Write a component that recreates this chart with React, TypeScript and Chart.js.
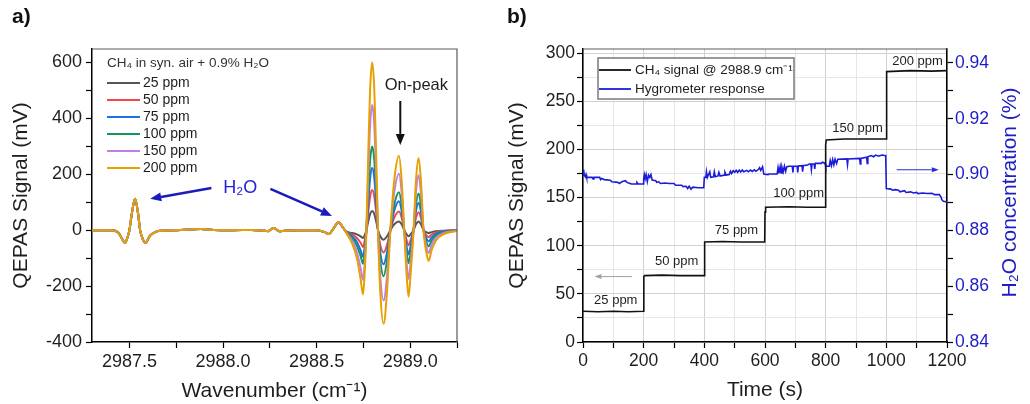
import React, { useEffect, useRef } from "react";
import { Chart, registerables } from "chart.js";

Chart.register(...registerables);

const FONT = "'Liberation Sans', Arial, Helvetica, sans-serif";
const INK = "#1e1e1e";
const BLUE = "#1c1cc8";

// ---------------- Panel a: QEPAS spectra ----------------
const wavenumber = [
  2987.3, 2987.4, 2987.44, 2987.46, 2987.476, 2987.49, 2987.5, 2987.513, 2987.53, 2987.546,
  2987.557, 2987.57, 2987.585, 2987.61, 2987.64, 2987.68, 2987.75, 2987.82, 2987.88, 2987.95,
  2988.05, 2988.15, 2988.21, 2988.24, 2988.27, 2988.3, 2988.33, 2988.4, 2988.5, 2988.54,
  2988.565, 2988.59, 2988.617, 2988.64, 2988.66, 2988.69, 2988.715, 2988.735, 2988.748, 2988.757,
  2988.766, 2988.777, 2988.787, 2988.797, 2988.807, 2988.817, 2988.828, 2988.84, 2988.858, 2988.876,
  2988.894, 2988.915, 2988.94, 2988.955, 2988.968, 2988.98, 2988.991, 2989.003, 2989.018, 2989.03,
  2989.045, 2989.058, 2989.071, 2989.085, 2989.098, 2989.115, 2989.14, 2989.18, 2989.25,
];

const signal25ppm = [
  0, 0, -8, -30, -46, -25, 0, 60, 112, 60, 0, -30, -45, -20, -6, -2, 0, 2, 4, 1,
  0, 1, -1, -4, 8, -4, -2, 0, 0, -6, -14, 6, 28, 10,
  -5, -10, -15, -22, -28, -18, 0, 35, 60, 69, 60, 35, 0, -22, -34, -22, 0, 21, 31, 20,
  0, -14, -22, -14, 0, 20, 31, 20, 0, -7, -10, -7, -4, -2, 0,
];
const signal50ppm = [
  0, 0, -8, -30, -46, -25, 0, 60, 112, 60, 0, -30, -45, -20, -6, -2, 0, 2, 4, 1,
  0, 1, -1, -4, 8, -4, -2, 0, 0, -6, -14, 6, 28, 10,
  -7, -15, -28, -45, -60, -38, 0, 72, 125, 144, 125, 72, 0, -53, -80, -53, 0, 45, 67, 43,
  0, -34, -54, -34, 0, 42, 64, 42, 0, -17, -25, -16, -8, -3, 0,
];
const signal75ppm = [
  0, 0, -8, -30, -46, -25, 0, 60, 112, 60, 0, -30, -45, -20, -6, -2, 0, 2, 4, 1,
  0, 1, -1, -4, 8, -4, -2, 0, 0, -6, -14, 6, 28, 10,
  -8, -22, -42, -72, -95, -60, 0, 111, 193, 222, 193, 111, 0, -80, -122, -80, 0, 70, 103, 66,
  0, -55, -87, -55, 0, 65, 98, 65, 0, -27, -40, -26, -12, -5, -1,
];
const signal100ppm = [
  0, 0, -8, -30, -46, -25, 0, 60, 112, 60, 0, -30, -45, -20, -6, -2, 0, 2, 4, 1,
  0, 1, -1, -4, 8, -4, -2, 0, 0, -6, -14, 6, 28, 10,
  -9, -28, -55, -92, -120, -78, 0, 150, 260, 299, 260, 150, 0, -108, -165, -108, 0, 92, 136, 87,
  0, -75, -118, -75, 0, 87, 131, 87, 0, -39, -58, -37, -18, -7, -1,
];
const signal150ppm = [
  0, 0, -8, -30, -46, -25, 0, 60, 112, 60, 0, -30, -45, -20, -6, -2, 0, 2, 4, 1,
  0, 1, -1, -4, 8, -4, -2, 0, 0, -6, -14, 6, 28, 10,
  -10, -38, -78, -135, -178, -115, 0, 224, 390, 448, 390, 224, 0, -165, -252, -165, 0, 137, 202, 129,
  0, -111, -175, -111, 0, 129, 196, 129, 0, -55, -82, -52, -26, -10, -2,
];
const signal200ppm = [
  0, 0, -8, -30, -46, -25, 0, 60, 112, 60, 0, -30, -45, -20, -6, -2, 0, 2, 4, 1,
  0, 1, -1, -4, 8, -4, -2, 0, 0, -6, -14, 6, 28, 10,
  -12, -48, -100, -175, -230, -150, 0, 300, 520, 600, 520, 300, 0, -220, -335, -220, 0, 180, 266, 170,
  0, -150, -238, -150, 0, 170, 258, 170, 0, -75, -110, -70, -35, -14, -3,
];

const spectraSeries = [signal25ppm, signal50ppm, signal75ppm, signal100ppm, signal150ppm, signal200ppm];
const seriesLabels = ["25 ppm", "50 ppm", "75 ppm", "100 ppm", "150 ppm", "200 ppm"];
const seriesColors = ["#555555", "#f2474f", "#1f6fe5", "#14965a", "#c07fe6", "#e6a000"];
const legendTitleA = "CH\u2084 in syn. air + 0.9% H\u2082O";

// ---------------- Panel b: time series ----------------
const timeCH4 = [
  0, 50, 100, 150, 199, 200, 201, 203, 260, 320, 399, 400, 402, 460, 520, 599,
  600, 602, 680, 740, 799, 800, 802, 860, 920, 999, 1000, 1002, 1080, 1150, 1200,
];
const signalCH4 = [
  32, 31.5, 32, 31.5, 32, 55, 68, 69, 69.5, 69, 69, 100, 104, 104.5, 104, 104,
  135, 140, 140.5, 140, 140, 205, 210, 211, 211, 211, 275, 281, 282, 281.5, 282,
];

const timeHygro = [
  0, 2, 4, 8, 10, 12, 30, 33, 36, 55, 58, 62, 70, 90, 95, 115, 120, 128, 140, 145,
  155, 160, 175, 178, 182, 198, 200, 202, 205, 208, 212, 216, 220, 224, 228, 240, 243, 250, 255, 270,
  285, 300, 305, 325, 330, 340, 345, 350, 356, 362, 380, 398, 400, 405, 407, 410, 418, 421, 430, 433,
  436, 445, 448, 452, 465, 468, 472, 482, 486, 490, 495, 500, 505, 510, 515, 520, 525, 530, 540, 545,
  552, 558, 565, 570, 578, 582, 586, 592, 596, 610, 614, 640, 643, 646, 650, 653, 656, 660, 664, 668,
  672, 680, 690, 692, 694, 706, 708, 710, 722, 724, 726, 740, 746, 751, 753, 755, 762, 764, 766, 785,
  790, 798, 800, 812, 815, 819, 823, 827, 831, 836, 840, 870, 872, 874, 912, 914, 916, 935, 937, 939,
  950, 958, 965, 975, 985, 998, 1000, 1015, 1020, 1030, 1040, 1045, 1060, 1065, 1080, 1090, 1100, 1105, 1120, 1135,
  1150, 1160, 1175, 1180, 1183, 1188, 1200,
];
const h2oConcentration = [
  0.8998, 0.9018, 0.8998, 0.8992, 0.9, 0.899, 0.899, 0.8984, 0.899, 0.899, 0.8982, 0.8986, 0.8982, 0.898, 0.8974, 0.8972, 0.8968, 0.8974, 0.8978, 0.8972,
  0.8968, 0.8966, 0.8966, 0.8972, 0.8966, 0.8966, 0.8985, 0.9, 0.8985, 0.9, 0.8975, 0.8998, 0.899, 0.9, 0.898, 0.8978, 0.8972, 0.8974, 0.8968, 0.897,
  0.8968, 0.8968, 0.8962, 0.8962, 0.8957, 0.8958, 0.895, 0.8958, 0.8948, 0.8955, 0.8953, 0.8953, 0.899, 0.899, 0.901, 0.899, 0.901, 0.899, 0.8992, 0.901,
  0.8992, 0.8995, 0.9008, 0.8995, 0.8998, 0.9008, 0.8998, 0.9, 0.9012, 0.9004, 0.9014, 0.9008, 0.9015, 0.9008, 0.9016, 0.9009, 0.9016, 0.901, 0.9015, 0.901,
  0.9016, 0.9011, 0.9017, 0.9012, 0.9018, 0.9025, 0.9015, 0.9028, 0.9002, 0.9, 0.9002, 0.9002, 0.9025, 0.9004, 0.9028, 0.9006, 0.9026, 0.901, 0.903, 0.9012,
  0.9028, 0.903, 0.903, 0.9008, 0.903, 0.903, 0.9008, 0.9031, 0.9032, 0.901, 0.9032, 0.9034, 0.9038, 0.9038, 0.9018, 0.9038, 0.9038, 0.902, 0.904, 0.904,
  0.9044, 0.904, 0.903, 0.903, 0.905, 0.9032, 0.9054, 0.9035, 0.9055, 0.904, 0.9055, 0.9056, 0.9036, 0.9056, 0.9058, 0.9038, 0.9058, 0.9062, 0.904, 0.9064,
  0.9068, 0.9064, 0.907, 0.9066, 0.907, 0.9068, 0.895, 0.8948, 0.8944, 0.8946, 0.8944, 0.8938, 0.8942, 0.8936, 0.8938, 0.8934, 0.8936, 0.8932, 0.8934, 0.8932,
  0.8933, 0.8928, 0.8928, 0.892, 0.891, 0.8904, 0.8902,
];
const stepLabels = ["25 ppm", "50 ppm", "75 ppm", "100 ppm", "150 ppm", "200 ppm"];
const legendLabelsB = ["CH\u2084 signal @ 2988.9 cm\u207B\u00B9", "Hygrometer response"];

// ---------------- drawing helpers ----------------
function drawText(
  ctx: CanvasRenderingContext2D, s: string, x: number, y: number, size: number,
  color: string, align: CanvasTextAlign = "left", weight = ""
) {
  ctx.save();
  ctx.font = `${weight} ${size}px ${FONT}`.trim();
  ctx.fillStyle = color;
  ctx.textAlign = align;
  ctx.textBaseline = "middle";
  ctx.fillText(s, x, y);
  ctx.restore();
}

function drawArrow(
  ctx: CanvasRenderingContext2D, x1: number, y1: number, x2: number, y2: number,
  color: string, lw: number, head: number, halfW: number
) {
  const ang = Math.atan2(y2 - y1, x2 - x1);
  const bx = x2 - head * Math.cos(ang);
  const by = y2 - head * Math.sin(ang);
  ctx.save();
  ctx.strokeStyle = color;
  ctx.fillStyle = color;
  ctx.lineWidth = lw;
  ctx.beginPath();
  ctx.moveTo(x1, y1);
  ctx.lineTo(bx, by);
  ctx.stroke();
  ctx.beginPath();
  ctx.moveTo(x2, y2);
  ctx.lineTo(bx + halfW * Math.sin(ang), by - halfW * Math.cos(ang));
  ctx.lineTo(bx - halfW * Math.sin(ang), by + halfW * Math.cos(ang));
  ctx.closePath();
  ctx.fill();
  ctx.restore();
}

function drawTopRightFrame(chart: any, right: boolean) {
  const { ctx, chartArea } = chart;
  ctx.save();
  ctx.strokeStyle = "#5a5a5a";
  ctx.lineWidth = 1.2;
  ctx.beginPath();
  ctx.moveTo(chartArea.left, chartArea.top);
  ctx.lineTo(chartArea.right, chartArea.top);
  if (right) ctx.lineTo(chartArea.right, chartArea.bottom);
  ctx.stroke();
  ctx.restore();
}

// ---------------- Panel a ----------------
function PanelA() {
  const ref = useRef<HTMLCanvasElement | null>(null);
  useEffect(() => {
    if (!ref.current) return;
    const annotate = {
      id: "annotateA",
      afterDraw(chart: any) {
        const { ctx, chartArea } = chart;
        const xs = chart.scales.x;
        const ys = chart.scales.y;
        const px = (v: number) => xs.getPixelForValue(v);
        const py = (v: number) => ys.getPixelForValue(v);
        drawTopRightFrame(chart, true);

        drawText(ctx, "a)", 12, 17, 21, "#111", "left", "bold");

        const lx = chartArea.left + 15;
        drawText(ctx, legendTitleA, lx, chartArea.top + 14, 13.5, "#333");
        seriesLabels.forEach((lab, i) => {
          const y = chartArea.top + 34 + i * 17;
          ctx.save();
          ctx.strokeStyle = seriesColors[i];
          ctx.lineWidth = 2;
          ctx.beginPath();
          ctx.moveTo(lx, y);
          ctx.lineTo(lx + 33, y);
          ctx.stroke();
          ctx.restore();
          drawText(ctx, lab, lx + 36, y, 14, INK);
        });

        drawText(ctx, "H\u2082O", px(2988.092), py(151), 18, "#2323d6", "center");
        drawArrow(ctx, px(2987.938), py(151), px(2987.611), py(112), "#1a1ac0", 2.5, 11, 4.5);
        drawArrow(ctx, px(2988.253), py(148), px(2988.582), py(51), "#1a1ac0", 2.5, 11, 4.5);

        drawText(ctx, "On-peak", px(2989.033), py(516), 16.5, INK, "center");
        drawArrow(ctx, px(2988.947), py(462), px(2988.947), py(305), "#111", 2, 11, 4.5);
      },
    };

    const chart = new Chart(ref.current, {
      type: "line",
      data: {
        datasets: spectraSeries.map((arr, i) => ({
          label: seriesLabels[i],
          data: wavenumber.map((x, k) => ({ x, y: arr[k] })),
          borderColor: seriesColors[i],
          backgroundColor: seriesColors[i],
          borderWidth: 2,
          pointRadius: 0,
          tension: 0.4,
          cubicInterpolationMode: "monotone",
          order: spectraSeries.length - 1 - i,
        })),
      },
      options: {
        responsive: false,
        animation: false,
        events: [],
        layout: { padding: { top: 49, right: 43, bottom: 0, left: 0 } },
        plugins: { legend: { display: false }, tooltip: { enabled: false } },
        scales: {
          x: {
            type: "linear",
            min: 2987.3,
            max: 2989.25,
            afterFit: (s: any) => { s.height = 62; },
            ticks: {
              stepSize: 0.25,
              includeBounds: false,
              autoSkip: false,
              maxRotation: 0,
              padding: 3,
              color: INK,
              font: { family: FONT, size: 18 },
              callback: (v: any) => {
                const n = Number(v);
                return Math.abs(n * 2 - Math.round(n * 2)) < 1e-6 ? n.toFixed(1) : "";
              },
            },
            grid: { drawOnChartArea: false, tickLength: 6, tickColor: "#000", tickWidth: 1.2 },
            border: { color: "#000", width: 1.5 },
            title: {
              display: true,
              text: "Wavenumber (cm\u207B\u00B9)",
              color: INK,
              font: { family: FONT, size: 21 },
              padding: { top: 0, bottom: 0 },
            },
          },
          y: {
            type: "linear",
            min: -400,
            max: 648,
            afterFit: (s: any) => { s.width = 92; },
            ticks: {
              stepSize: 100,
              includeBounds: false,
              padding: 4,
              color: INK,
              font: { family: FONT, size: 18 },
              callback: (v: any) => (Number(v) % 200 === 0 ? String(v) : ""),
            },
            grid: { drawOnChartArea: false, tickLength: 6, tickColor: "#000", tickWidth: 1.2 },
            border: { color: "#000", width: 1.5 },
            title: {
              display: true,
              text: "QEPAS Signal (mV)",
              color: INK,
              font: { family: FONT, size: 21 },
              padding: { top: 9, bottom: 0 },
            },
          },
        },
      },
      plugins: [annotate],
    } as any);
    return () => chart.destroy();
  }, []);
  return (
    <canvas
      ref={ref}
      width={500}
      height={404}
      style={{ position: "absolute", left: 0, top: 0, width: 500, height: 404 }}
    />
  );
}

// ---------------- Panel b ----------------
function PanelB() {
  const ref = useRef<HTMLCanvasElement | null>(null);
  useEffect(() => {
    if (!ref.current) return;
    const annotate = {
      id: "annotateB",
      afterDraw(chart: any) {
        const { ctx, chartArea } = chart;
        const xs = chart.scales.x;
        const ys = chart.scales.y;
        const px = (v: number) => xs.getPixelForValue(v);
        const py = (v: number) => ys.getPixelForValue(v);
        drawTopRightFrame(chart, false);

        drawText(ctx, "b)", 7, 17, 21, "#111", "left", "bold");

        ctx.save();
        ctx.translate(chart.width - 20, (chartArea.top + chartArea.bottom) / 2 - 3);
        ctx.rotate(-Math.PI / 2);
        drawText(ctx, "H\u2082O concentration (%)", 0, 0, 21, BLUE, "center");
        ctx.restore();

        const bx = chartArea.left + 15;
        const by = chartArea.top + 9;
        ctx.save();
        ctx.fillStyle = "#fff";
        ctx.fillRect(bx, by, 196, 41);
        ctx.strokeStyle = "#7a7a7a";
        ctx.lineWidth = 1.5;
        ctx.strokeRect(bx, by, 196, 41);
        ctx.restore();
        const legColors = ["#111", "#1c1cd8"];
        legendLabelsB.forEach((lab, i) => {
          const y = by + 12 + i * 19;
          ctx.save();
          ctx.strokeStyle = legColors[i];
          ctx.lineWidth = 1.8;
          ctx.beginPath();
          ctx.moveTo(bx + 1, y);
          ctx.lineTo(bx + 33, y);
          ctx.stroke();
          ctx.restore();
          drawText(ctx, lab, bx + 37, y, 13.5, INK);
        });

        const anchors = [[108, 43], [309, 84], [506, 116], [711, 154], [905, 222], [1103, 292]];
        stepLabels.forEach((lab, i) => {
          drawText(ctx, lab, px(anchors[i][0]), py(anchors[i][1]), 13, INK, "center");
        });

        drawArrow(ctx, px(161), py(68), px(38), py(68), "#a0a0a0", 1, 7, 2.5);
        drawArrow(ctx, px(1034), py(179), px(1173), py(179), "#2a2ad8", 1, 7, 2.5);
      },
    };

    const chart = new Chart(ref.current, {
      type: "line",
      data: {
        datasets: [
          {
            label: legendLabelsB[0],
            data: timeCH4.map((x, k) => ({ x, y: signalCH4[k] })),
            borderColor: "#111",
            borderWidth: 1.6,
            pointRadius: 0,
            tension: 0,
            yAxisID: "y",
          },
          {
            label: legendLabelsB[1],
            data: timeHygro.map((x, k) => ({ x, y: h2oConcentration[k] })),
            borderColor: "#1c1cd8",
            borderWidth: 1.6,
            pointRadius: 0,
            tension: 0,
            yAxisID: "y1",
          },
        ],
      },
      options: {
        responsive: false,
        animation: false,
        events: [],
        layout: { padding: { top: 49, right: 0, bottom: 0, left: 0 } },
        plugins: { legend: { display: false }, tooltip: { enabled: false } },
        scales: {
          x: {
            type: "linear",
            min: 0,
            max: 1200,
            afterFit: (s: any) => { s.height = 62; },
            ticks: {
              stepSize: 100,
              autoSkip: false,
              maxRotation: 0,
              padding: 3,
              color: INK,
              font: { family: FONT, size: 17.5 },
              callback: (v: any) => (Number(v) % 200 === 0 ? String(v) : ""),
            },
            grid: {
              drawOnChartArea: true,
              color: (c: any) => (c.tick && c.tick.value % 200 === 0 ? "#d2d2d2" : "#e6e6e6"),
              tickLength: 6,
              tickColor: "#000",
              tickWidth: 1.2,
            },
            border: { color: "#000", width: 1.5 },
            title: {
              display: true,
              text: "Time (s)",
              color: INK,
              font: { family: FONT, size: 21 },
              padding: { top: 0, bottom: 1 },
            },
          },
          y: {
            type: "linear",
            position: "left",
            min: 0,
            max: 304.5,
            afterFit: (s: any) => { s.width = 83; },
            ticks: {
              stepSize: 25,
              includeBounds: false,
              padding: 2,
              color: INK,
              font: { family: FONT, size: 17.5 },
              callback: (v: any) => (Number(v) % 50 === 0 ? String(v) : ""),
            },
            grid: {
              drawOnChartArea: true,
              color: (c: any) => (c.tick && c.tick.value % 50 === 0 ? "#d2d2d2" : "#e6e6e6"),
              tickLength: 6,
              tickColor: "#000",
              tickWidth: 1.2,
            },
            border: { color: "#000", width: 1.5 },
            title: {
              display: true,
              text: "QEPAS Signal (mV)",
              color: INK,
              font: { family: FONT, size: 21 },
              padding: { top: 5, bottom: 0 },
            },
          },
          y1: {
            type: "linear",
            position: "right",
            min: 0.84,
            max: 0.945,
            afterFit: (s: any) => { s.width = 83; },
            ticks: {
              stepSize: 0.01,
              includeBounds: false,
              padding: 2,
              color: BLUE,
              font: { family: FONT, size: 17.5 },
              callback: (v: any) => {
                const n = Math.round(Number(v) * 100);
                return n % 2 === 0 ? (n / 100).toFixed(2) : "";
              },
            },
            grid: { drawOnChartArea: false, tickLength: 6, tickColor: "#000", tickWidth: 1.2 },
            border: { color: "#000", width: 1.5 },
          },
        },
      },
      plugins: [annotate],
    } as any);
    return () => chart.destroy();
  }, []);
  return (
    <canvas
      ref={ref}
      width={530}
      height={404}
      style={{ position: "absolute", left: 500, top: 0, width: 530, height: 404 }}
    />
  );
}

export default function App() {
  return (
    <div
      style={{
        position: "fixed",
        left: 0,
        top: 0,
        width: 1030,
        height: 404,
        background: "#fff",
        overflow: "hidden",
      }}
    >
      <PanelA />
      <PanelB />
    </div>
  );
}
